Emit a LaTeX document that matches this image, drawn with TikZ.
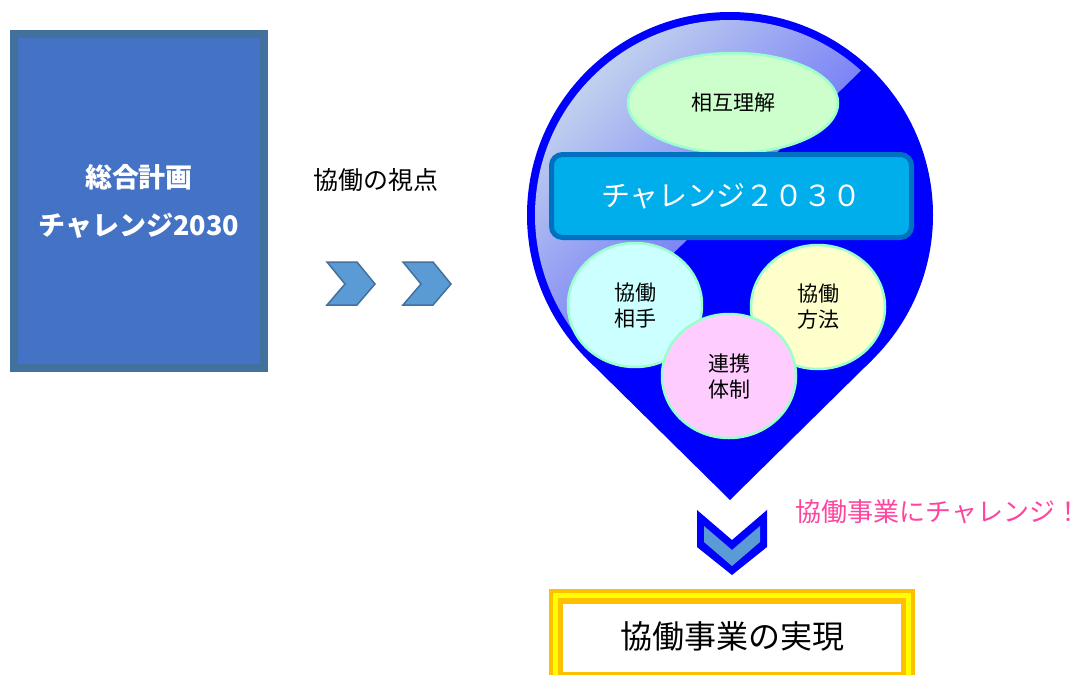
\documentclass[tikz,border=0pt]{standalone}
\usepackage{fontspec}
\setmainfont{Noto Sans CJK JP}
\usetikzlibrary{shapes.geometric}
\definecolor{planfill}{HTML}{4472C4}
\definecolor{planedge}{HTML}{41719C}
\definecolor{chevfill}{HTML}{5B9BD5}
\definecolor{dropblue}{HTML}{0000FF}
\definecolor{hilite}{HTML}{C0D0EE}
\definecolor{hilitedark}{HTML}{3030FF}
\definecolor{bubbleedge}{HTML}{99FFCC}
\definecolor{greenfill}{HTML}{CCFFCC}
\definecolor{cyanfill}{HTML}{CCFFFF}
\definecolor{yellowfill}{HTML}{FFFFCC}
\definecolor{pinkfill}{HTML}{FFCCFF}
\definecolor{barfill}{HTML}{00AEEB}
\definecolor{baredge}{HTML}{0070C0}
\definecolor{pinktext}{HTML}{FF44A0}
\definecolor{goldband}{HTML}{FFC000}
\definecolor{yelband}{HTML}{FFFF00}
\begin{document}
\begin{tikzpicture}[x=1pt,y=-1pt,
  bubble/.style={ellipse, draw=bubbleedge, line width=2.5pt, inner sep=0pt,
    minimum width=134pt, minimum height=124pt, align=center,
    font=\fontsize{21}{26}\selectfont},
  rchev/.style={fill=chevfill, draw=planedge, line width=1.5pt, line join=miter}
]
\useasboundingbox (0,0) rectangle (1080,675);

% left plan box
\node[draw=planedge, line width=8pt, fill=planfill, minimum width=250pt,
  minimum height=334pt, inner sep=0pt, anchor=north west, text=white,
  align=center, font=\fontsize{27}{48}\selectfont\bfseries] (plan) at (10,30)
  {総合計画\\チャレンジ2030};

% viewpoint label
\node[font=\fontsize{25}{30}\selectfont, anchor=center] (view) at (376,180) {協働の視点};

% right chevrons
\path[rchev] (327,262) -- (357,262) -- (375,284) -- (357,305) -- (327,305) -- (345,284) -- cycle;
\path[rchev] (403,262) -- (433,262) -- (451,284) -- (433,305) -- (403,305) -- (421,284) -- cycle;

% teardrop
\fill[dropblue] (730,215) circle (203);
\fill[dropblue] (587.5,359.6) -- (730,500) -- (872.5,359.6) -- (730,215) -- cycle;
\begin{scope}
  \clip (500,0) -- (880,0) -- (880,52) -- (540,383) -- (500,383) -- cycle;
  \shade[shading=axis, top color=hilite, bottom color=hilitedark, shading angle=45]
    (730,215) circle (195);
\end{scope}

% mutual understanding
\node[ellipse, draw=bubbleedge, fill=greenfill, line width=2.5pt, inner sep=0pt,
  minimum width=210pt, minimum height=100pt, font=\fontsize{21}{26}\selectfont]
  (mutual) at (733,103) {相互理解};

% challenge bar
\node[draw=baredge, fill=barfill, line width=5pt, rounded corners=11pt,
  minimum width=360pt, minimum height=83pt, inner sep=0pt, text=white,
  font=\fontsize{29}{34}\selectfont] (bar) at (731.5,196) {チャレンジ２０３０};

% bubbles
\node[bubble, fill=cyanfill] (partner) at (635,305) {協働\\相手};
\node[bubble, fill=yellowfill] (method) at (818,307) {協働\\方法};
\node[bubble, fill=pinkfill] (system) at (729,376) {連携\\体制};

% down chevron
\fill[dropblue] (697,510) -- (732,540) -- (767,510) -- (767,547) -- (732,575) -- (697,547) -- cycle;
\fill[chevfill] (704,526) -- (732,550) -- (760,526) -- (760,542) -- (732,566) -- (704,542) -- cycle;

% pink label
\node[text=pinktext, anchor=west, font=\fontsize{26}{30}\selectfont] (try) at (792,512)
  {協働事業にチャレンジ！};

% result box
\fill[goldband] (549,589) rectangle (915,690);
\fill[yelband] (553,593) rectangle (911,686);
\fill[goldband] (558,598) rectangle (906,681);
\fill[white] (563,604) rectangle (901,672);
\node[font=\fontsize{32}{36}\selectfont] (result) at (732,636) {協働事業の実現};
\end{tikzpicture}
\end{document}
